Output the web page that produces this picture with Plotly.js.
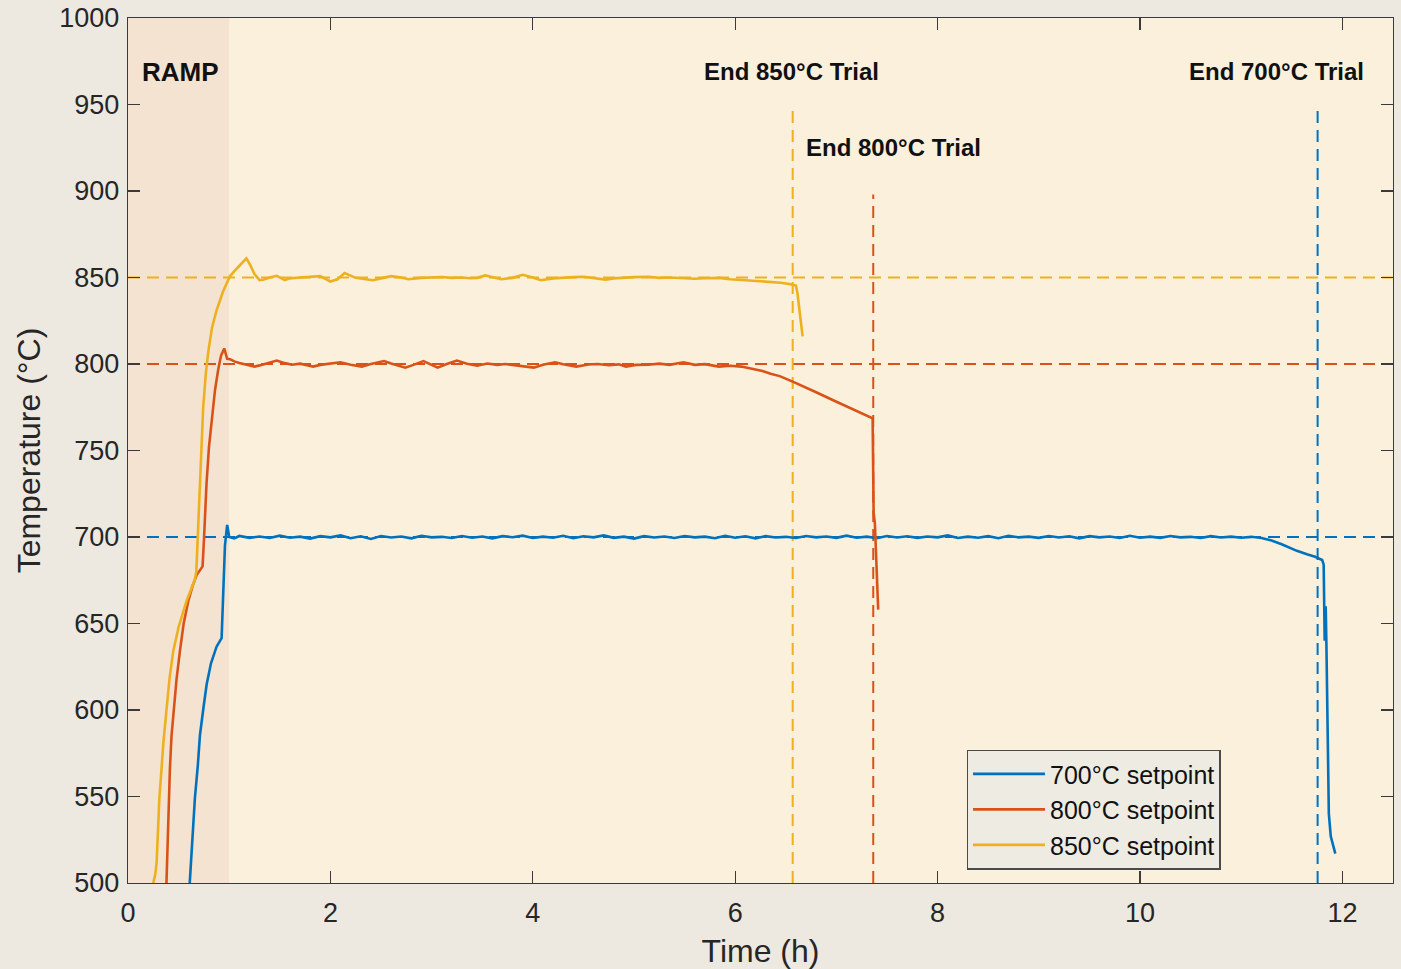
<!DOCTYPE html>
<html>
<head>
<meta charset="utf-8">
<script src="https://cdn.plot.ly/plotly-3.0.1.min.js"></script>
<style>html,body{margin:0;padding:0;background:#EDE9E0;}#chart{width:1401px;height:969px;}</style>
</head>
<body>
<div id="chart"></div>
<script>
// ---- Data ----
const seriesNames = ['700°C setpoint', '800°C setpoint', '850°C setpoint'];

const time700 = [0.61, 0.63, 0.661, 0.69, 0.711, 0.745, 0.777, 0.82, 0.875, 0.925, 0.94, 0.958, 0.98, 1.0,
  1.05, 1.1, 1.2, 1.3, 1.4, 1.5, 1.6, 1.7, 1.8, 1.9, 2.0, 2.1, 2.2, 2.3, 2.4, 2.5, 2.6, 2.7, 2.8, 2.9,
  3.0, 3.1, 3.2, 3.3, 3.4, 3.5, 3.6, 3.7, 3.8, 3.9, 4.0, 4.1, 4.2, 4.3, 4.4, 4.5, 4.6, 4.7, 4.8, 4.9,
  5.0, 5.1, 5.2, 5.3, 5.4, 5.5, 5.6, 5.7, 5.8, 5.9, 6.0, 6.1, 6.2, 6.3, 6.4, 6.5, 6.6, 6.7, 6.8, 6.9,
  7.0, 7.1, 7.2, 7.3, 7.4, 7.5, 7.6, 7.7, 7.8, 7.9, 8.0, 8.1, 8.2, 8.3, 8.4, 8.5, 8.6, 8.7, 8.8, 8.9,
  9.0, 9.1, 9.2, 9.3, 9.4, 9.5, 9.6, 9.7, 9.8, 9.9, 10.0, 10.1, 10.2, 10.3, 10.4, 10.5, 10.6, 10.7, 10.8, 10.9,
  11.0, 11.1, 11.2, 11.3, 11.4, 11.47, 11.55, 11.65, 11.73, 11.8, 11.815, 11.825, 11.835, 11.842, 11.855, 11.866, 11.885, 11.93];
const temp700 = [500, 522, 549, 568, 585.5, 601, 614.7, 627, 636.6, 641.5, 662, 695, 707, 700,
  699.2, 700.6, 699.5, 700.3, 699.4, 700.8, 699.6, 700.2, 699.1, 700.5, 699.8, 700.9, 699.3, 700.4, 698.9, 700.6, 699.7, 700.3, 699.2, 700.7,
  699.8, 700.1, 699.4, 700.6, 699.6, 700.3, 699.2, 700.5, 699.9, 700.8, 699.4, 700.2, 699.6, 700.7, 699.3, 700.4, 699.8, 700.9, 699.5, 700.2,
  699.1, 700.5, 699.7, 700.3, 699.4, 700.6, 699.8, 700.2, 699.3, 700.7, 699.6, 700.4, 699.2, 700.5, 699.7, 700.1, 699.4, 700.6, 699.8, 700.3,
  699.5, 700.8, 699.6, 700.2, 699.3, 700.6, 699.7, 700.4, 699.5, 700.3, 699.8, 700.9, 699.4, 700.2, 699.6, 700.5, 699.3, 700.7, 699.8, 700.2,
  699.5, 700.6, 699.7, 700.4, 699.2, 700.5, 699.8, 700.3, 699.4, 700.7, 699.6, 700.2, 699.5, 700.6, 699.8, 700.1, 699.4, 700.5, 699.7, 700.2,
  699.6, 700.1, 699.4, 698.0, 695.8, 694.0, 692.0, 690.0, 688.6, 686.7, 684.0, 640.0, 660.0, 638.0, 580.0, 540.0, 527.0, 517.0];

const time800 = [0.38, 0.40, 0.414, 0.43, 0.447, 0.48, 0.513, 0.55, 0.596, 0.64, 0.678, 0.737, 0.752, 0.776, 0.80, 0.826, 0.86, 0.892, 0.92, 0.951, 0.98, 1.01,
  1.05, 1.1, 1.2, 1.25, 1.3, 1.4, 1.47, 1.55, 1.62, 1.7, 1.83, 1.9, 2.0, 2.1, 2.2, 2.31, 2.4, 2.53, 2.6, 2.74, 2.82, 2.92,
  3.0, 3.06, 3.15, 3.25, 3.35, 3.45, 3.55, 3.65, 3.73, 3.85, 4.01, 4.1, 4.22, 4.3, 4.43, 4.55, 4.64, 4.75, 4.85, 4.92,
  5.02, 5.14, 5.25, 5.35, 5.49, 5.6, 5.7, 5.84, 5.95, 6.06, 6.15, 6.27, 6.35, 6.44, 6.568, 6.7, 6.8, 6.963, 7.1, 7.2, 7.3, 7.358,
  7.368, 7.38, 7.413];
const temp800 = [500, 540, 566, 585, 598, 618, 634, 650, 663, 672, 678, 683, 700, 731, 752, 768, 785, 797, 805, 809, 803, 802.7,
  801.5, 800.6, 799.3, 798.5, 799.2, 800.8, 802, 800.5, 799.6, 800.2, 798.5, 799.5, 800.4, 801, 799.6, 798.5, 800, 801.7, 800.3, 797.9, 799.5, 801.7,
  799.5, 797.9, 800, 802, 800.2, 799, 800.3, 799.5, 800, 799.2, 797.9, 799.6, 801, 799.8, 798.5, 799.7, 800, 799.3, 799.8, 798.5,
  799.5, 799.6, 800.2, 799.5, 801, 799.5, 799.9, 798.5, 799, 798.5, 797.5, 795.9, 794.4, 793, 789.8, 786.5, 783.7, 779.2, 775.5, 772.8, 770.2, 768.6,
  714, 708, 658];

const time850 = [0.25, 0.27, 0.283, 0.30, 0.31, 0.33, 0.349, 0.38, 0.41, 0.447, 0.5, 0.579, 0.661, 0.675, 0.694, 0.72, 0.743, 0.77, 0.793, 0.83, 0.875, 0.94, 1.007, 1.08, 1.17, 1.21, 1.25, 1.3, 1.336,
  1.4, 1.47, 1.55, 1.6, 1.7, 1.8, 1.9, 2.0, 2.07, 2.14, 2.2, 2.25, 2.35, 2.42, 2.5, 2.6, 2.7, 2.77, 2.9,
  3.02, 3.1, 3.2, 3.3, 3.38, 3.45, 3.53, 3.6, 3.69, 3.8, 3.9, 4.0, 4.08, 4.2, 4.3, 4.4, 4.5, 4.6, 4.72, 4.8, 4.9,
  5.0, 5.14, 5.25, 5.35, 5.49, 5.6, 5.7, 5.84, 5.95, 6.05, 6.15, 6.25, 6.35, 6.45, 6.535, 6.60, 6.615, 6.666];
const temp850 = [500, 505, 512, 535, 549, 565, 580.6, 600, 618, 634, 648, 663, 675.5, 680, 707, 745, 775, 795, 807, 821, 831, 842, 850.7, 855.5, 861, 857, 852, 848.5, 848.7,
  850, 851, 848.5, 849.5, 850, 850.5, 850.8, 847.7, 849, 852.6, 851, 849.8, 849, 848.4, 849.5, 850.8, 850, 849, 849.8,
  850, 850.3, 849.8, 850, 849.6, 849.8, 851.2, 850.2, 849, 849.8, 851.6, 850, 848.4, 849.5, 850, 850.2, 850.4, 849.7, 848.8, 849.5, 850,
  850.2, 850.4, 849.8, 850, 849.6, 849.3, 849.6, 849.8, 849, 848.6, 848.3, 847.8, 847.5, 847, 846.2, 845.3, 841, 816];

const setpoints = [700, 800, 850];
const trialEndTimes = [11.755, 7.364, 6.568];
const trialEndTops = [950, 898, 950];
const trialLabels = ['End 700°C Trial', 'End 800°C Trial', 'End 850°C Trial'];
const trialLabelPos = [[11.35, 969], [7.56, 925], [6.555, 969]];
const rampWindow = [0, 1];
const rampLabel = 'RAMP';
const xRange = [0, 12.5];
const yRange = [500, 1000];

// ---- Styling ----
const colors = ['#0072BD', '#D95319', '#EDB120'];
const FONT = 'Liberation Sans, Arial, Helvetica, sans-serif';
const times = [time700, time800, time850];
const temps = [temp700, temp800, temp850];

const traces = seriesNames.map((name, i) => ({
  type: 'scatter', mode: 'lines', name: name,
  x: times[i], y: temps[i],
  line: {color: colors[i], width: 2.6},
  hoverinfo: 'x+y'
}));

const shapes = [];
shapes.push({type: 'rect', xref: 'x', yref: 'y', x0: rampWindow[0], x1: rampWindow[1], y0: yRange[0], y1: yRange[1],
  fillcolor: '#F4E3D0', line: {width: 0}, layer: 'below'});
setpoints.forEach((sp, i) => shapes.push({type: 'line', xref: 'x', yref: 'y', x0: xRange[0], x1: xRange[1], y0: sp, y1: sp,
  line: {color: colors[i], width: 2, dash: '12px,7px'}, layer: 'below'}));
trialEndTimes.forEach((te, i) => shapes.push({type: 'line', xref: 'x', yref: 'y', x0: te, x1: te, y0: yRange[0], y1: trialEndTops[i],
  line: {color: colors[i], width: 2, dash: '12px,7px'}, layer: 'below'}));

const annotations = trialLabels.map((lab, i) => ({
  x: trialLabelPos[i][0], y: trialLabelPos[i][1], xref: 'x', yref: 'y', text: '<b>' + lab + '</b>',
  showarrow: false, xanchor: 'center', yanchor: 'middle', font: {family: FONT, size: 24, color: '#111'}
}));
annotations.push({x: 0.12, y: 969, xref: 'x', yref: 'y', text: '<b>' + rampLabel + '</b>', showarrow: false,
  xanchor: 'left', yanchor: 'middle', font: {family: FONT, size: 26, color: '#111'}});

const axisCommon = {
  showgrid: false, zeroline: false, showline: true, linecolor: '#3a3a3a', linewidth: 1.3,
  mirror: 'ticks', ticks: 'inside', ticklen: 12, tickwidth: 1.3, tickcolor: '#3a3a3a',
  tickfont: {family: FONT, size: 27, color: '#262626'}
};

const layout = {
  width: 1401, height: 969,
  paper_bgcolor: '#EDE9E0', plot_bgcolor: '#FAF0DC',
  margin: {l: 128, r: 8, t: 18, b: 86},
  showlegend: true,
  legend: {x: 0.663, y: 0.154, xanchor: 'left', yanchor: 'top', bgcolor: '#EEEBE3', bordercolor: '#4a4a4a', borderwidth: 1.3,
    font: {family: FONT, size: 25, color: '#111'}, itemwidth: 72},
  xaxis: Object.assign({}, axisCommon, {range: xRange, dtick: 2, tick0: 0, ticklabelstandoff: 5,
    title: {text: 'Time (h)', font: {family: FONT, size: 32, color: '#262626'}, standoff: 14}}),
  yaxis: Object.assign({}, axisCommon, {range: yRange, dtick: 50, tick0: 500, ticklabelstandoff: 2,
    title: {text: 'Temperature (°C)', font: {family: FONT, size: 32, color: '#262626'}, standoff: 9}}),
  shapes: shapes,
  annotations: annotations
};

Plotly.newPlot('chart', traces, layout, {displayModeBar: false, staticPlot: true});
</script>
</body>
</html>
